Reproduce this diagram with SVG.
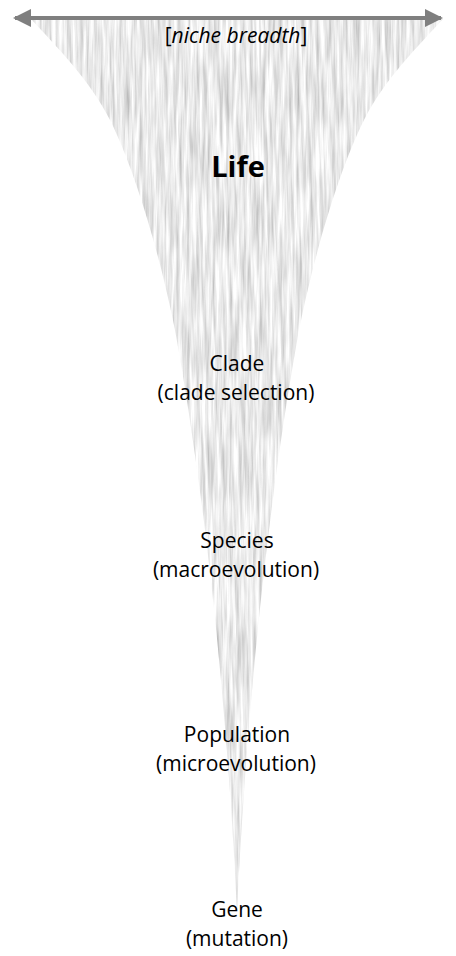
<svg xmlns="http://www.w3.org/2000/svg" width="456" height="956" viewBox="0 0 456 956">
  <defs>
    <filter id="streaks" x="0" y="0" width="1" height="1" filterUnits="objectBoundingBox">
      <feTurbulence type="fractalNoise" baseFrequency="0.3 0.016" numOctaves="3" seed="7" result="noise"/>
      <feColorMatrix in="noise" type="matrix" values="0.8 0 0 0 0.42  0.8 0 0 0 0.42  0.8 0 0 0 0.42  0 0 0 0 1" result="grey"/>
      <feComposite in="grey" in2="SourceGraphic" operator="in"/>
    </filter>
    <marker id="head" viewBox="0 0 18 18" refX="16" refY="9" markerWidth="18" markerHeight="18" markerUnits="userSpaceOnUse" orient="auto-start-reverse">
      <path d="M0,0 L18,9 L0,18 Z" fill="#7f7f7f"/>
    </marker>
  </defs>
  <style>
    .lbl { font-family: "Open Sans", "Noto Sans", "DejaVu Sans", sans-serif; font-size: 21px; fill: #000; text-anchor: middle; }
    .life { font-family: "Open Sans", "Noto Sans", "DejaVu Sans", sans-serif; font-size: 29px; font-weight: bold; fill: #000; text-anchor: middle; }
    .niche { font-family: "Open Sans", "Noto Sans", "DejaVu Sans", sans-serif; font-size: 21px; fill: #000; text-anchor: middle; }
  </style>
  <rect width="456" height="956" fill="#ffffff"/>

  <g id="funnel">
    <path d="M31,19 C55,45 90,80 110,120 C135,170 160,255 175,330 C195,440 224,640 237,912 C250,640 279,440 299,330 C314,255 339,170 364,120 C384,80 419,45 443,19 Z" fill="#d6d6d6" filter="url(#streaks)"/>
  </g>

  <g id="connectors">
    <line x1="15" y1="18" x2="441" y2="18" stroke="#7f7f7f" stroke-width="4" marker-start="url(#head)" marker-end="url(#head)"/>
  </g>

  <g id="niche-breadth">
    <text class="niche" x="236" y="43">[<tspan font-style="italic">niche breadth</tspan>]</text>
  </g>
  <g id="life">
    <text class="life" x="238" y="177">Life</text>
  </g>
  <g id="clade">
    <text class="lbl" x="237" y="371">Clade</text>
    <text class="lbl" x="236" y="400">(clade selection)</text>
  </g>
  <g id="species">
    <text class="lbl" x="237" y="548">Species</text>
    <text class="lbl" x="236" y="577">(macroevolution)</text>
  </g>
  <g id="population">
    <text class="lbl" x="237" y="742">Population</text>
    <text class="lbl" x="236" y="771">(microevolution)</text>
  </g>
  <g id="gene">
    <text class="lbl" x="237" y="917">Gene</text>
    <text class="lbl" x="237" y="946">(mutation)</text>
  </g>
</svg>
